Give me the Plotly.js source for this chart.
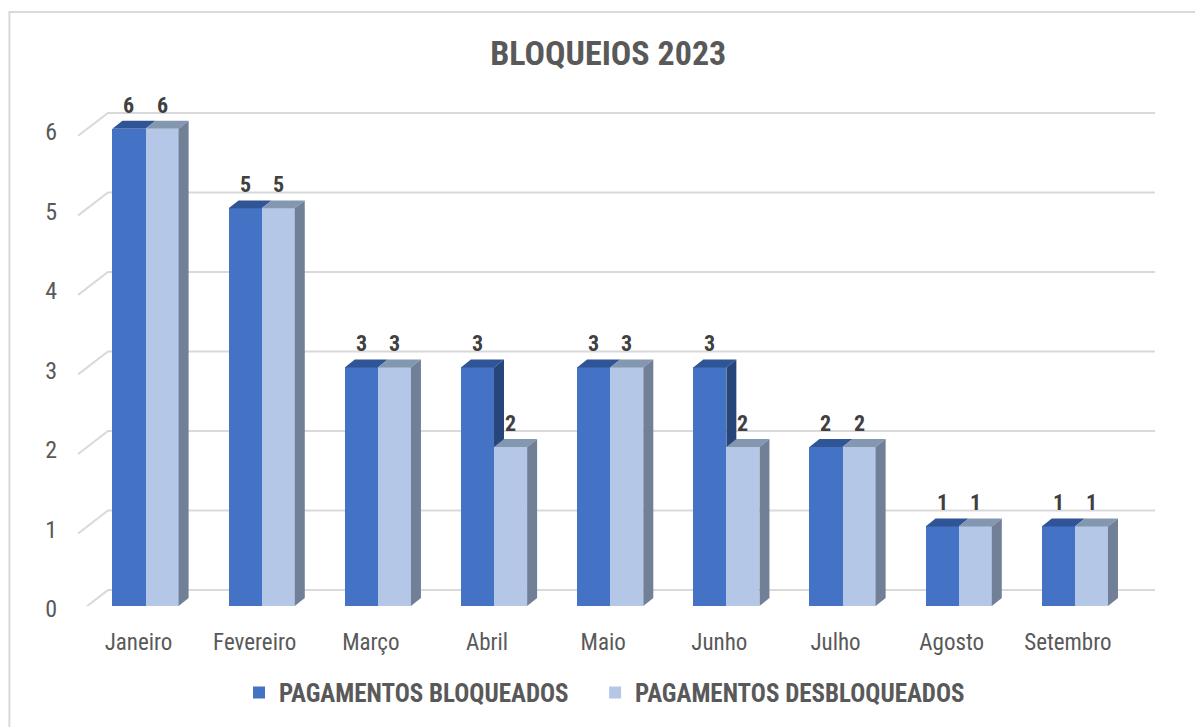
<!DOCTYPE html>
<html>
<head>
<meta charset="utf-8">
<script src="https://cdn.plot.ly/plotly-3.0.1.min.js"></script>
<style>
  html, body { margin: 0; padding: 0; background: #ffffff; }
  #chart { width: 1195px; height: 727px; }
</style>
</head>
<body>
<div id="chart"></div>
<script>
const meses = ['Janeiro', 'Fevereiro', 'Março', 'Abril', 'Maio', 'Junho', 'Julho', 'Agosto', 'Setembro'];
const bloqueados = [6, 5, 3, 3, 3, 3, 2, 1, 1];
const desbloqueados = [6, 5, 3, 2, 3, 2, 2, 1, 1];
const yTicks = [0, 1, 2, 3, 4, 5, 6];
const seriesNames = ['PAGAMENTOS BLOQUEADOS', 'PAGAMENTOS DESBLOQUEADOS'];

const FONT = "'Liberation Sans Narrow', 'Arial Narrow', 'Roboto Condensed', 'Liberation Sans', Arial, sans-serif";
const C_BLUE = '#4472C4', C_LIGHT = '#B4C7E7';
const C_BLUE_TOP = '#2F5597', C_LIGHT_TOP = '#8497B0';
const C_BLUE_SIDE = '#26457A', C_LIGHT_SIDE = '#718096';

const W = 0.285;     // bar width in category units
const DX = 0.086;    // depth offset x (category units)
const DY = 0.10;     // depth offset y (value units)

const idx = meses.map((_, i) => i);

const traces = [
  { type: 'bar', name: seriesNames[0], x: idx, y: bloqueados, width: W, offset: -W, legend: 'legend',
    marker: { color: C_BLUE, line: { width: 0 } }, hoverinfo: 'skip' },
  { type: 'bar', name: seriesNames[1], x: idx, y: desbloqueados, width: W, offset: 0, legend: 'legend2',
    marker: { color: C_LIGHT, line: { width: 0 } }, hoverinfo: 'skip' }
];

function poly(pts) {
  return 'M ' + pts.map(p => p[0] + ',' + p[1]).join(' L ') + ' Z';
}

const shapes = [];
// frame
shapes.push({ type: 'rect', xref: 'paper', yref: 'paper', x0: -0.0555, x1: 1.2, y0: 1.167, y1: -0.6,
  line: { color: '#D9D9D9', width: 2 }, fillcolor: 'rgba(0,0,0,0)', layer: 'below' });
// gridlines with perspective
yTicks.forEach(v => {
  shapes.push({ type: 'path', xref: 'x', yref: 'y', layer: 'below',
    path: 'M -0.58,' + (v - 0.088) + ' L -0.323,' + (v + 0.2) + ' L 8.69,' + (v + 0.2),
    line: { color: '#D9D9D9', width: 2 } });
});
// 3D faces
idx.forEach(i => {
  const b = bloqueados[i], l = desbloqueados[i];
  shapes.push({ type: 'path', xref: 'x', yref: 'y', layer: 'above', line: { width: 0 }, fillcolor: C_BLUE_TOP,
    path: poly([[i - W, b], [i, b], [i + DX, b + DY], [i - W + DX, b + DY]]) });
  if (b > l) {
    shapes.push({ type: 'path', xref: 'x', yref: 'y', layer: 'above', line: { width: 0 }, fillcolor: C_BLUE_SIDE,
      path: poly([[i, b], [i + DX, b + DY], [i + DX, l], [i, l]]) });
  }
  shapes.push({ type: 'path', xref: 'x', yref: 'y', layer: 'above', line: { width: 0 }, fillcolor: C_LIGHT_TOP,
    path: poly([[i, l], [i + W, l], [i + W + DX, l + DY], [i + DX, l + DY]]) });
  shapes.push({ type: 'path', xref: 'x', yref: 'y', layer: 'above', line: { width: 0 }, fillcolor: C_LIGHT_SIDE,
    path: poly([[i + W, l], [i + W + DX, l + DY], [i + W + DX, DY], [i + W, 0]]) });
});

const annotations = [];
idx.forEach(i => {
  annotations.push({ x: i - W / 2, y: bloqueados[i], xref: 'x', yref: 'y', text: String(bloqueados[i]),
    showarrow: false, yanchor: 'bottom', yshift: 9,
    font: { family: FONT, size: 22, color: '#404040', weight: 'bold' } });
  annotations.push({ x: i + W / 2, y: desbloqueados[i], xref: 'x', yref: 'y', text: String(desbloqueados[i]),
    showarrow: false, yanchor: 'bottom', yshift: 9,
    font: { family: FONT, size: 22, color: '#404040', weight: 'bold' } });
});

const legendFont = { family: FONT, size: 25, color: '#595959', weight: 'bold' };

const layout = {
  width: 1195, height: 727,
  paper_bgcolor: '#ffffff', plot_bgcolor: 'rgba(0,0,0,0)',
  margin: { l: 70, r: 33, t: 97, b: 121 },
  font: { family: FONT, color: '#595959' },
  title: { text: 'BLOQUEIOS 2023', x: 0.509, xref: 'container', y: 0.927, yref: 'container',
    xanchor: 'center', yanchor: 'middle',
    font: { family: FONT, size: 34, color: '#595959', weight: 'bold' } },
  bargap: 0, barmode: 'overlay',
  xaxis: { range: [-0.65, 8.75], tickvals: idx, ticktext: meses, showgrid: false, zeroline: false,
    showline: false, ticks: '', ticklabelstandoff: 20, ticklabelshift: -7,
    tickfont: { family: FONT, size: 23, color: '#595959' }, fixedrange: true },
  yaxis: { range: [0, 6.4], tickvals: yTicks, showgrid: false, zeroline: false, showline: false,
    ticks: '', ticklabelstandoff: 12, ticklabelshift: 3,
    tickfont: { family: FONT, size: 24, color: '#595959' }, fixedrange: true },
  showlegend: true,
  legend: { orientation: 'h', xref: 'container', yref: 'container', x: 0.2, y: 0.047,
    xanchor: 'left', yanchor: 'middle', itemwidth: 30, font: legendFont, bgcolor: 'rgba(0,0,0,0)' },
  legend2: { orientation: 'h', xref: 'container', yref: 'container', x: 0.498, y: 0.047,
    xanchor: 'left', yanchor: 'middle', itemwidth: 30, font: legendFont, bgcolor: 'rgba(0,0,0,0)' },
  shapes: shapes,
  annotations: annotations
};

Plotly.newPlot('chart', traces, layout, { displayModeBar: false, staticPlot: true });
</script>
</body>
</html>
